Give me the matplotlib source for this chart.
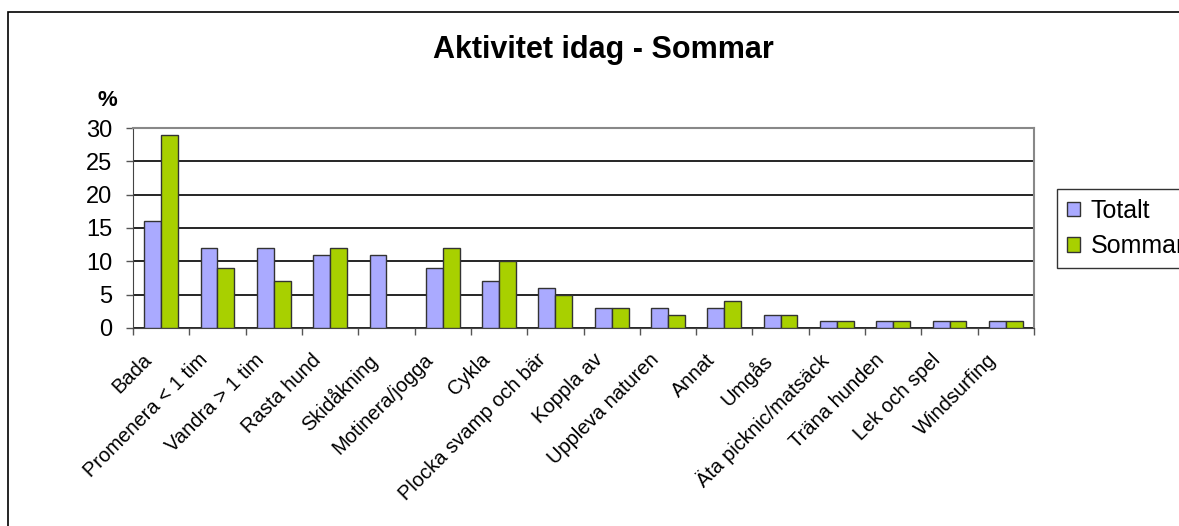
import matplotlib
matplotlib.use("Agg")
import matplotlib.pyplot as plt
from matplotlib.patches import Rectangle
from matplotlib.transforms import ScaledTranslation
import numpy as np

plt.rcParams["font.family"] = ["Liberation Sans", "DejaVu Sans"]

CATEGORIES = [
    "Bada", "Promenera < 1 tim", "Vandra > 1 tim", "Rasta hund", "Skidåkning",
    "Motinera/jogga", "Cykla", "Plocka svamp och bär", "Koppla av",
    "Uppleva naturen", "Annat", "Umgås", "Äta picknic/matsäck",
    "Träna hunden", "Lek och spel", "Windsurfing",
]
TOTALT = [16, 12, 12, 11, 11, 9, 7, 6, 3, 3, 3, 2, 1, 1, 1, 1]
SOMMAR = [29, 9, 7, 12, 0, 12, 10, 5, 3, 2, 4, 2, 1, 1, 1, 1]

W, H = 1179, 526
BLUE = "#AAAAFF"
GREEN = "#A8D000"


def px(x0, y0, x1, y1):
    # pixel box (top-left origin) -> figure fraction rect
    return [x0 / W, 1 - y1 / H, (x1 - x0) / W, (y1 - y0) / H]


fig = plt.figure(figsize=(W / 100, H / 100), dpi=100)
fig.patch.set_facecolor("white")

# outer chart frame (runs off the right/bottom edge)
fig.add_artist(Rectangle((8 / W, -0.1), 1.2, 1.1 - 12 / H, transform=fig.transFigure,
                         facecolor="none", edgecolor="black", linewidth=1.2))

ax = fig.add_axes(px(133, 128, 1034, 328))
x = np.arange(len(CATEGORIES))
bw = 0.3
ax.bar(x - bw / 2, TOTALT, bw, color=BLUE, edgecolor="#333333", linewidth=1, label="Totalt", zorder=3)
ax.bar(x + bw / 2, SOMMAR, bw, color=GREEN, edgecolor="#333333", linewidth=1, label="Sommar", zorder=3)

ax.set_xlim(-0.5, len(CATEGORIES) - 0.5)
ax.set_ylim(0, 30)
ax.set_yticks(range(0, 31, 5))
ax.tick_params(axis="y", labelsize=17, direction="out", length=5, width=1, color="#555555", pad=10)
ax.yaxis.grid(True, color="black", linewidth=1.2, zorder=0)

ax.set_xticks(x)
ax.set_xticklabels(CATEGORIES, rotation=45, ha="right", rotation_mode="anchor", fontsize=14.5)
ax.tick_params(axis="x", length=0, pad=8)
shift = ScaledTranslation(-19 / 100, -11 / 100, fig.dpi_scale_trans)
for lbl in ax.get_xticklabels():
    lbl.set_transform(lbl.get_transform() + shift)
ax.set_xticks(np.arange(-0.5, len(CATEGORIES)), minor=True)
ax.tick_params(axis="x", which="minor", direction="out", length=5, width=1, color="#555555")

for side in ["top", "right"]:
    ax.spines[side].set_color("#888888")
    ax.spines[side].set_linewidth(1.5)
ax.spines["left"].set_color("#444444")
ax.spines["bottom"].set_color("#444444")

fig.text(603 / W, 1 - 58 / H, "Aktivitet idag - Sommar", ha="center", va="baseline",
         fontsize=22, fontweight="bold")
fig.text(107 / W, 1 - 100 / H, "%", ha="center", va="center", fontsize=16, fontweight="bold")

leg = fig.legend(loc="upper left", bbox_to_anchor=(1057 / W, 1 - 189 / H), fontsize=18,
                 frameon=True, fancybox=False, edgecolor="black", handlelength=0.5,
                 handleheight=0.5, handletextpad=0.45, labelspacing=0.45, borderpad=0.4,
                 borderaxespad=0)
leg.get_frame().set_linewidth(1)

fig.savefig("out.png", dpi=100, facecolor="white")
